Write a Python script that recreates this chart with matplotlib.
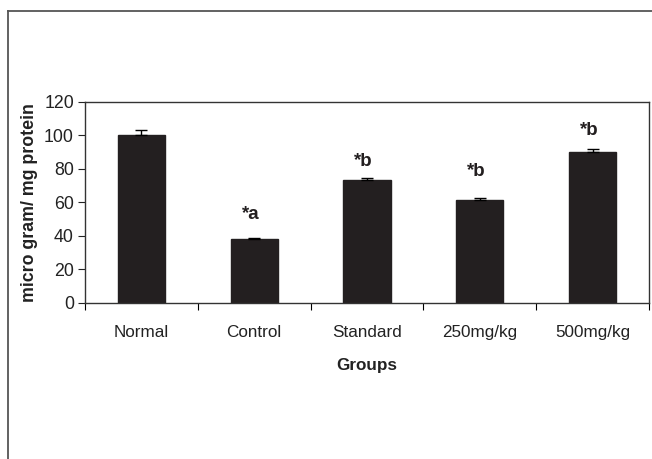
import numpy as np
import matplotlib
matplotlib.use("Agg")
import matplotlib.pyplot as plt
from matplotlib.lines import Line2D

# group means and errors (micro gram / mg protein)
groups = ['Normal', 'Control', 'Standard', '250mg/kg', '500mg/kg']
means = [100.0, 38.0, 73.5, 61.5, 90.0]
errors = [3.5, 0.5, 1.0, 1.2, 1.8]
sig_labels = ['', '*a', '*b', '*b', '*b']
sig_heights = [0, 50, 82, 76, 100]

plt.rcParams['font.family'] = ['Liberation Sans', 'DejaVu Sans']

fig = plt.figure(figsize=(6.52, 4.59), dpi=100)
ax = fig.add_axes([0.1304, 0.3399, 0.8650, 0.4379])

# outer frame (top and left edges)
frame_col = '#555555'
fig.add_artist(Line2D([0.0123, 1.0], [0.976, 0.976], color=frame_col, lw=1.3,
                      transform=fig.transFigure))
fig.add_artist(Line2D([0.0123, 0.0123], [0.0, 0.976], color=frame_col, lw=1.3,
                      transform=fig.transFigure))

x = np.arange(len(groups))
ax.bar(x, means, width=0.42, color='#231f20', edgecolor='#231f20', zorder=2)
ax.errorbar(x, means, yerr=[np.zeros(len(errors)), errors], fmt='none',
            ecolor='black', elinewidth=1.0, capsize=4, capthick=1.0, zorder=3)

for xi, lab, h in zip(x, sig_labels, sig_heights):
    if lab:
        ax.text(xi - 0.03, h, lab, ha='center', va='baseline', fontsize=13.5,
                fontweight='bold', color='#231f20')

ax.set_xlim(-0.5, len(groups) - 0.5)
ax.set_ylim(0, 120)
ax.set_yticks(np.arange(0, 121, 20))
ax.tick_params(axis='y', direction='out', length=5, width=0.8,
               labelsize=12.8, colors='#222222', pad=3)

# category labels centred, tick marks on the boundaries
ax.set_xticks(x)
ax.set_xticklabels(groups)
ax.set_xticks(np.arange(-0.5, len(groups) + 0.5, 1.0), minor=True)
ax.tick_params(axis='x', which='major', length=0, labelsize=12.3,
               colors='#222222', pad=16)
ax.tick_params(axis='x', which='minor', direction='out', length=5, width=0.8)

for side in ax.spines.values():
    side.set_color('#333333')
    side.set_linewidth(1.0)

ax.set_ylabel('micro gram/ mg protein', fontsize=12.8, fontweight='bold',
              color='#222222', labelpad=4)
ax.set_xlabel('Groups', fontsize=12.3, fontweight='bold', color='#222222',
              labelpad=13)

fig.savefig('out.png', dpi=100)
